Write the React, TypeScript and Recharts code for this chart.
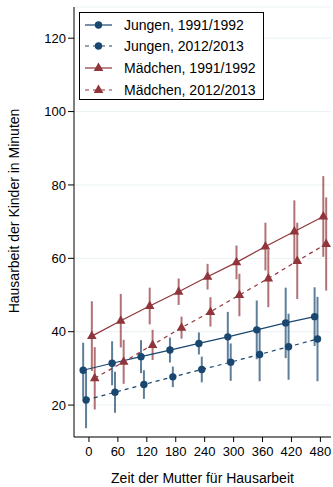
import {
  CartesianGrid,
  ErrorBar,
  Legend,
  Scatter,
  ScatterChart,
  XAxis,
  YAxis,
} from "recharts";

const xTicks = [0, 60, 120, 180, 240, 300, 360, 420, 480];
const yTicks = [20, 40, 60, 80, 100, 120];

const jungen1991 = [29.5, 31.4, 33.2, 35.0, 36.8, 38.6, 40.5, 42.4, 44.1];
const jungen1991Err = [7.5, 6, 4.5, 3.4, 3, 6.8, 8, 9.6, 8];
const jungen2012 = [21.4, 23.5, 25.6, 27.7, 29.7, 31.7, 33.8, 35.9, 38.0];
const jungen2012Err = [7.7, 5.6, 3.9, 2.8, 3.5, 5.1, 7.3, 9, 11.5];
const maedchen1991 = [38.8, 43.0, 47.0, 50.9, 55.0, 58.9, 63.2, 67.3, 71.4];
const maedchen1991Err = [9.5, 7.3, 5, 3.6, 3.5, 4.6, 6.5, 8.5, 11];
const maedchen2012 = [27.3, 31.8, 36.4, 41.1, 45.4, 50.0, 54.5, 59.3, 63.9];
const maedchen2012Err = [8.5, 6, 4.1, 3, 4, 5.8, 7.8, 10.4, 12.7];

// small horizontal dodge (minutes) so the bars don't sit on top of each other
const dodge = [-12, -6, 6, 12];

const BLUE = "#1a476f";
const RED = "#90353b";
const FONT = "'Liberation Sans', Arial, Helvetica, sans-serif";

const rows = (vals: number[], errs: number[], off: number) =>
  xTicks.map((t, i) => ({ x: t + off, y: vals[i], err: errs[i] }));

const series = [
  { name: "Jungen, 1991/1992", color: BLUE, dashed: false, marker: "circle", data: rows(jungen1991, jungen1991Err, dodge[0]) },
  { name: "Jungen, 2012/2013", color: BLUE, dashed: true, marker: "circle", data: rows(jungen2012, jungen2012Err, dodge[1]) },
  { name: "Mädchen, 1991/1992", color: RED, dashed: false, marker: "triangle", data: rows(maedchen1991, maedchen1991Err, dodge[2]) },
  { name: "Mädchen, 2012/2013", color: RED, dashed: true, marker: "triangle", data: rows(maedchen2012, maedchen2012Err, dodge[3]) },
];

function Marker({ cx, cy, kind, color }: { cx: number; cy: number; kind: string; color: string }) {
  if (kind === "triangle") {
    return (
      <polygon
        points={`${cx},${cy - 5.5} ${cx - 4.8},${cy + 3} ${cx + 4.8},${cy + 3}`}
        fill={color}
      />
    );
  }
  return <circle cx={cx} cy={cy} r={3.7} fill={color} />;
}

function LegendBox() {
  return (
    <div
      style={{
        width: 185,
        height: 88,
        border: "1px solid #000",
        boxSizing: "border-box",
        background: "#fff",
        paddingTop: 1,
        fontFamily: FONT,
        fontSize: 14,
        color: "#000",
      }}
    >
      {series.map((s) => (
        <div key={s.name} style={{ display: "flex", alignItems: "center", height: 21.6 }}>
          <svg width={28} height={14} style={{ marginLeft: 5 }}>
            <line
              x1={0}
              y1={7}
              x2={27}
              y2={7}
              stroke={s.color}
              strokeWidth={1.2}
              strokeDasharray={s.dashed ? "4 4" : undefined}
            />
            <Marker cx={13.5} cy={7} kind={s.marker} color={s.color} />
          </svg>
          <span style={{ marginLeft: 11, whiteSpace: "nowrap" }}>{s.name}</span>
        </div>
      ))}
    </div>
  );
}

export default function App() {
  return (
    <div style={{ position: "absolute", left: 0, top: 0, background: "#fff" }}>
      <ScatterChart
        width={333}
        height={487}
        margin={{ top: 7, right: 2, left: 0, bottom: 0 }}
        style={{ fontFamily: FONT }}
      >
        <CartesianGrid vertical={false} stroke="#eaf2f3" strokeWidth={1} />
        <XAxis
          type="number"
          dataKey="x"
          domain={[-31, 502]}
          ticks={xTicks}
          allowDataOverflow
          height={50}
          stroke="#000"
          tickSize={5}
          tickMargin={5}
          tick={{ fill: "#000", fontSize: 13 }}
          label={{
            value: "Zeit der Mutter für Hausarbeit",
            position: "insideBottom",
            offset: 4,
            style: { fill: "#000", fontSize: 14 },
          }}
        />
        <YAxis
          type="number"
          dataKey="y"
          domain={[11.3, 128.5]}
          ticks={yTicks}
          allowDataOverflow
          width={74}
          stroke="#000"
          tickSize={6}
          tickMargin={2}
          tick={{ fill: "#000", fontSize: 13 }}
          label={{
            value: "Hausarbeit der Kinder in Minuten",
            angle: -90,
            position: "insideLeft",
            offset: 14,
            dy: -11,
            style: { fill: "#000", fontSize: 14, textAnchor: "middle" },
          }}
        />
        <Legend
          layout="vertical"
          align="center"
          verticalAlign="middle"
          content={() => <LegendBox />}
          wrapperStyle={{ top: 12, left: 79, width: 185, height: 88 }}
        />
        {series.map((s) => (
          <Scatter
            key={s.name}
            name={s.name}
            data={s.data}
            dataKey="y"
            fill={s.color}
            isAnimationActive={false}
            line={{ stroke: s.color, strokeWidth: 1.2, strokeDasharray: s.dashed ? "4 4" : undefined }}
            lineType="joint"
            shape={(p: any) => <Marker cx={p.cx} cy={p.cy} kind={s.marker} color={s.color} />}
          >
            <ErrorBar
              dataKey="err"
              direction="y"
              width={0}
              stroke={s.color}
              strokeOpacity={0.7}
              strokeWidth={2}
            />
          </Scatter>
        ))}
      </ScatterChart>
    </div>
  );
}
